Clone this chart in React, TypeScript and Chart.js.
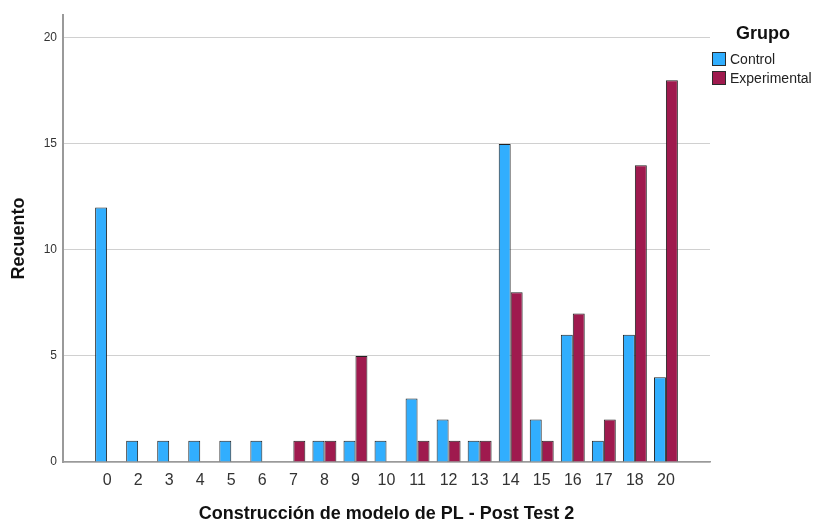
import React, { useEffect, useRef } from "react";
import { Chart, registerables } from "chart.js";

Chart.register(...registerables);

const categories = ["0", "2", "3", "4", "5", "6", "7", "8", "9", "10", "11", "12", "13", "14", "15", "16", "17", "18", "20"];
const controlValues = [12, 1, 1, 1, 1, 1, 0, 1, 1, 1, 3, 2, 1, 15, 2, 6, 1, 6, 4];
const experimentalValues = [0, 0, 0, 0, 0, 0, 1, 1, 5, 0, 1, 1, 1, 8, 1, 7, 2, 14, 18];
const yTicks = [0, 5, 10, 15, 20];
const seriesNames = ["Control", "Experimental"];
const legendTitle = "Grupo";
const xTitle = "Construcción de modelo de PL - Post Test 2";
const yTitle = "Recuento";

const BLUE = "#31aefe";
const MAROON = "#9f1a4e";
const FONT = "Arial, 'Liberation Sans', sans-serif";

export default function App() {
  const ref = useRef<HTMLCanvasElement | null>(null);

  useEffect(() => {
    if (!ref.current) return;
    const toPoints = (arr: number[]) => arr.map((v, i) => ({ x: i, y: v }));
    const chart = new Chart(ref.current, {
      type: "bar",
      data: {
        datasets: [
          {
            label: seriesNames[0],
            data: toPoints(controlValues),
            backgroundColor: BLUE,
            borderColor: "#222",
            borderWidth: 1,
            barPercentage: 1,
            categoryPercentage: 0.77,
          },
          {
            label: seriesNames[1],
            data: toPoints(experimentalValues),
            backgroundColor: MAROON,
            borderColor: "#222",
            borderWidth: 1,
            barPercentage: 1,
            categoryPercentage: 0.77,
          },
        ],
      },
      options: {
        responsive: false,
        animation: false,
        layout: { padding: { top: 15, right: 106, left: 0, bottom: 0 } },
        plugins: { legend: { display: false }, tooltip: { enabled: false } },
        scales: {
          x: {
            type: "linear",
            offset: false,
            min: -1.42,
            max: 19.42,
            afterBuildTicks: (axis: any) => {
              axis.ticks = categories.map((_, i) => ({ value: i }));
            },
            afterFit: (scale: any) => {
              scale.height = 63;
            },
            grid: { display: false, drawTicks: false },
            border: { display: true, color: "#9a9a9a", width: 1.5 },
            ticks: {
              autoSkip: false,
              maxRotation: 0,
              padding: 9,
              color: "#333",
              font: { family: FONT, size: 16 },
              callback: (v: any) => categories[v as number] ?? "",
            },
            title: {
              display: true,
              text: xTitle,
              color: "#111",
              font: { family: FONT, size: 18, weight: "bold" },
              padding: { top: 0, bottom: 0 },
            },
          },
          y: {
            min: 0,
            max: 21.08,
            afterBuildTicks: (axis: any) => {
              axis.ticks = yTicks.map((v) => ({ value: v }));
            },
            afterFit: (scale: any) => {
              scale.width = 63;
            },
            grid: { color: "#d0d0d0", lineWidth: 1, drawTicks: false },
            border: { display: true, color: "#9a9a9a", width: 2 },
            ticks: {
              padding: 6,
              color: "#333",
              font: { family: FONT, size: 12 },
            },
            title: {
              display: true,
              text: yTitle,
              color: "#111",
              font: { family: FONT, size: 18, weight: "bold" },
              padding: { top: 8, bottom: 4 },
            },
          },
        },
      },
    });
    return () => chart.destroy();
  }, []);

  const colors = [BLUE, MAROON];
  return (
    <div style={{ position: "absolute", left: 0, top: 0, width: 816, height: 525, background: "#fff" }}>
      <canvas ref={ref} width={816} height={525} style={{ width: 816, height: 525, display: "block" }} />
      <div
        style={{
          position: "absolute",
          left: 736,
          top: 22,
          fontFamily: FONT,
          fontWeight: "bold",
          fontSize: 18,
          color: "#111",
          lineHeight: "22px",
        }}
      >
        {legendTitle}
      </div>
      {seriesNames.map((name, i) => (
        <div
          key={name}
          style={{
            position: "absolute",
            left: 712,
            top: 52 + i * 19,
            display: "flex",
            alignItems: "center",
            fontFamily: FONT,
            fontSize: 14,
            color: "#222",
            lineHeight: "14px",
          }}
        >
          <span
            style={{
              display: "inline-block",
              width: 12,
              height: 12,
              background: colors[i],
              border: "1px solid #2b2b2b",
              marginRight: 4,
            }}
          />
          <span>{name}</span>
        </div>
      ))}
    </div>
  );
}
